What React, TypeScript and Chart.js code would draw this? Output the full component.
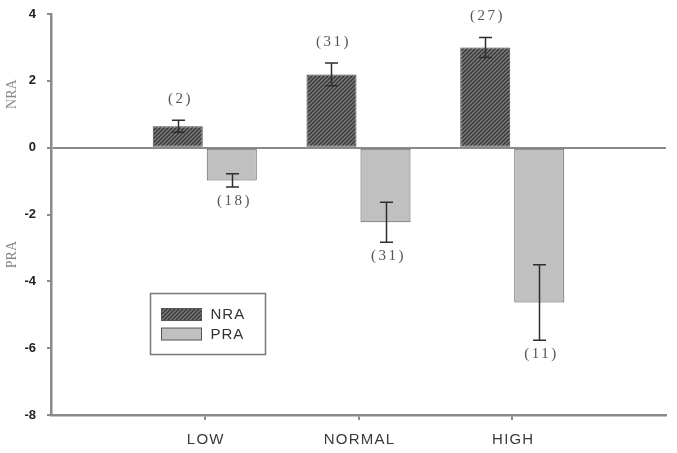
import { useEffect, useRef } from 'react';
import { Chart, registerables } from 'chart.js';

Chart.register(...registerables);

// Category slots: empty slots at both ends leave room on each side of the groups
const categories = ['', 'LOW', 'NORMAL', 'HIGH', ''];
const nraValues = [null, 0.64, 2.19, 3.0, null];
const nraErrors = [null, 0.18, 0.34, 0.3, null];
const nraCounts = ['', '(2)', '(31)', '(27)', ''];
const praValues = [null, -0.98, -2.23, -4.63, null];
const praErrors = [null, 0.2, 0.6, 1.13, null];
const praCounts = ['', '(18)', '(31)', '(11)', ''];
const yTicks = [-8, -6, -4, -2, 0, 2, 4];

const AXIS = '#8a8a8a';

function makeHatch(): CanvasPattern {
  const c = document.createElement('canvas');
  c.width = 4;
  c.height = 4;
  const g = c.getContext('2d')!;
  g.fillStyle = '#7c7c7c';
  g.fillRect(0, 0, 4, 4);
  g.strokeStyle = '#353535';
  g.lineWidth = 1.3;
  g.beginPath();
  g.moveTo(0, 4);
  g.lineTo(4, 0);
  g.moveTo(-1, 1);
  g.lineTo(1, -1);
  g.moveTo(3, 5);
  g.lineTo(5, 3);
  g.stroke();
  return g.createPattern(c, 'repeat')!;
}

const errorsByDataset = [nraErrors, praErrors];
const countsByDataset = [nraCounts, praCounts];

const decorations = {
  id: 'decorations',
  afterDatasetsDraw(chart: any) {
    const ctx = chart.ctx as CanvasRenderingContext2D;
    const y = chart.scales.y;
    chart.data.datasets.forEach((ds: any, di: number) => {
      const meta = chart.getDatasetMeta(di);
      const errs = errorsByDataset[di];
      const counts = countsByDataset[di];
      meta.data.forEach((bar: any, i: number) => {
        const v = ds.data[i];
        if (v == null) return;
        const e = errs[i] as number;
        const x = Math.round(bar.x) + 0.5;
        const yHi = y.getPixelForValue(v + e);
        const yLo = y.getPixelForValue(v - e);
        ctx.save();
        ctx.strokeStyle = '#2e2e2e';
        ctx.lineWidth = 1.5;
        ctx.beginPath();
        ctx.moveTo(x, yHi);
        ctx.lineTo(x, yLo);
        ctx.moveTo(x - 6.5, yHi);
        ctx.lineTo(x + 6.5, yHi);
        ctx.moveTo(x - 6.5, yLo);
        ctx.lineTo(x + 6.5, yLo);
        ctx.stroke();

        // sample-size label above positive bars, below negative ones
        ctx.font = '15px "Liberation Serif", "DejaVu Serif", serif';
        (ctx as any).letterSpacing = '2.5px';
        ctx.fillStyle = '#555';
        ctx.textAlign = 'center';
        ctx.textBaseline = 'middle';
        const ty = v >= 0 ? yHi - 21 : yLo + 14;
        ctx.fillText(counts[i], x + 2, ty);
        ctx.restore();
      });
    });
  },
  afterDraw(chart: any) {
    const ctx = chart.ctx as CanvasRenderingContext2D;
    const area = chart.chartArea;
    const xs = chart.scales.x;
    const y = chart.scales.y;

    // category labels with slightly widened letter spacing
    ctx.save();
    ctx.font = '15px "Liberation Sans", Arial, sans-serif';
    (ctx as any).letterSpacing = '1.2px';
    ctx.fillStyle = '#3a3a3a';
    ctx.textAlign = 'center';
    ctx.textBaseline = 'middle';
    categories.forEach((label, i) => {
      if (!label) return;
      ctx.fillText(label, xs.getPixelForValue(i) + 1, area.bottom + 25);
    });
    ctx.restore();

    // split axis titles: NRA for the positive half, PRA for the negative half
    ctx.save();
    ctx.font = '14px "Liberation Serif", "DejaVu Serif", serif';
    ctx.fillStyle = '#8a8a8a';
    ctx.textAlign = 'center';
    ctx.textBaseline = 'middle';
    [
      ['NRA', 1.6],
      ['PRA', -3.2],
    ].forEach(([t, v]) => {
      ctx.save();
      ctx.translate(12, y.getPixelForValue(v as number));
      ctx.rotate(-Math.PI / 2);
      ctx.fillText(t as string, 0, 0);
      ctx.restore();
    });
    ctx.restore();

    // boxed legend
    const bx = area.left + 99.5;
    const by = y.getPixelForValue(-4.35) + 0.5;
    ctx.save();
    ctx.fillStyle = '#fff';
    ctx.strokeStyle = '#7a7a7a';
    ctx.lineWidth = 1.5;
    ctx.fillRect(bx, by, 115, 61);
    ctx.strokeRect(bx, by, 115, 61);
    ctx.font = '15px "Liberation Sans", Arial, sans-serif';
    (ctx as any).letterSpacing = '1px';
    ctx.textBaseline = 'middle';
    chart.data.datasets.forEach((ds: any, di: number) => {
      const sy = by + 15 + di * 19.5;
      ctx.fillStyle = ds.backgroundColor;
      ctx.fillRect(bx + 11, sy, 40, 12);
      ctx.strokeStyle = '#555';
      ctx.lineWidth = 1;
      ctx.strokeRect(bx + 11, sy, 40, 12);
      ctx.fillStyle = '#333';
      ctx.fillText(ds.label, bx + 60, sy + 6.5);
    });
    ctx.restore();
  },
};

export default function App() {
  const ref = useRef<HTMLCanvasElement>(null);

  useEffect(() => {
    const canvas = ref.current!;
    const hatch = makeHatch();
    const chart = new Chart(canvas, {
      type: 'bar',
      data: {
        labels: categories,
        datasets: [
          {
            label: 'NRA',
            data: nraValues as any,
            backgroundColor: hatch as any,
            borderColor: '#4a4a4a',
            borderWidth: 1,
            borderSkipped: false,
          },
          {
            label: 'PRA',
            data: praValues as any,
            backgroundColor: '#c0c0c0',
            borderColor: '#5a5a5a',
            borderWidth: 1,
            borderSkipped: false,
          },
        ],
      },
      options: {
        responsive: false,
        animation: false,
        events: [],
        layout: { padding: { top: 14, right: 11, left: 0, bottom: 0 } },
        categoryPercentage: 0.7025,
        barPercentage: 0.926,
        plugins: {
          legend: { display: false },
          tooltip: { enabled: false },
        },
        scales: {
          x: {
            type: 'category',
            offset: false,
            grid: {
              offset: false,
              drawOnChartArea: false,
              tickLength: 5,
              lineWidth: 2,
              tickColor: (c: any) => (categories[c.index] ? AXIS : 'rgba(0,0,0,0)'),
            },
            border: { color: AXIS, width: 2.5 },
            ticks: { display: false, autoSkip: false },
            afterFit: (s: any) => {
              s.height = 38;
            },
          },
          y: {
            min: -8,
            max: 4,
            afterBuildTicks: (s: any) => {
              s.ticks = yTicks.map((v) => ({ value: v }));
            },
            grid: {
              color: (c: any) => (c.tick && c.tick.value === 0 ? AXIS : 'rgba(0,0,0,0)'),
              tickColor: AXIS,
              lineWidth: 2,
              tickLength: 4,
            },
            border: { color: AXIS, width: 2.5 },
            ticks: {
              padding: 11,
              color: '#222',
              font: { family: '"Liberation Sans", Arial, sans-serif', size: 13, weight: 'bold', lineHeight: 0.4 },
            },
            afterFit: (s: any) => {
              s.width = 51;
            },
          },
        },
      },
      plugins: [decorations],
    });
    return () => chart.destroy();
  }, []);

  return (
    <div style={{ position: 'absolute', left: 0, top: 0, width: 677, height: 453, background: '#fff' }}>
      <canvas ref={ref} width={677} height={453} style={{ display: 'block' }} />
    </div>
  );
}
